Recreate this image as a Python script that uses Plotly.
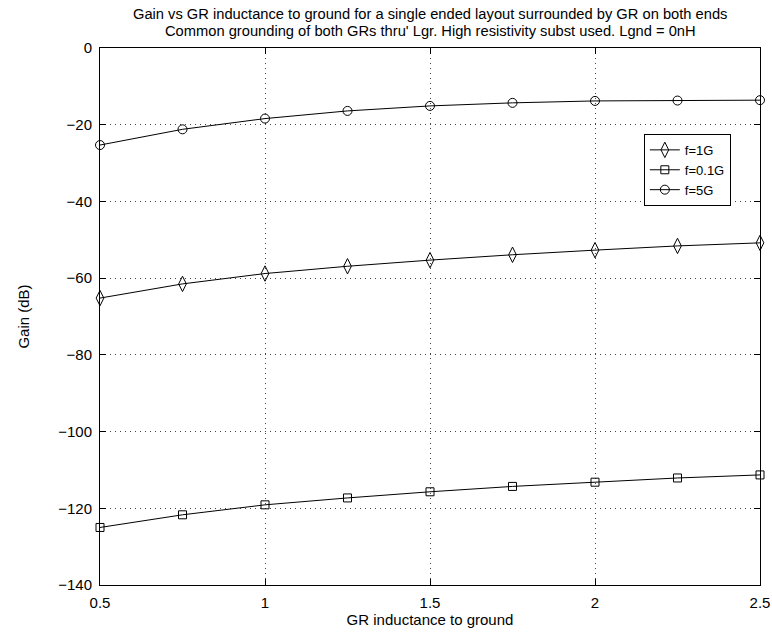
import plotly.graph_objects as go

x = [0.5, 0.75, 1.0, 1.25, 1.5, 1.75, 2.0, 2.25, 2.5]
gain_1g = [-65.2, -61.5, -58.8, -56.9, -55.3, -53.9, -52.7, -51.6, -50.8]
gain_01g = [-125.0, -121.7, -119.1, -117.3, -115.7, -114.3, -113.2, -112.1, -111.3]
gain_5g = [-25.3, -21.2, -18.4, -16.4, -15.1, -14.3, -13.8, -13.7, -13.6]

title_lines = [
    "Gain vs GR inductance to ground for a single ended layout surrounded by GR on both ends",
    "Common grounding of both GRs thru' Lgr. High resistivity subst used. Lgnd = 0nH",
]

series = [
    ("f=1G", gain_1g, "diamond-tall-open", 11),
    ("f=0.1G", gain_01g, "square-open", 8),
    ("f=5G", gain_5g, "circle-open", 9),
]

FAM = "Liberation Sans, Arial, sans-serif"

fig = go.Figure()
for name, y, sym, sz in series:
    fig.add_trace(go.Scatter(
        x=x, y=y, name=name, mode="lines+markers",
        line=dict(color="black", width=1),
        marker=dict(symbol=sym, size=sz,
                    color="black", line=dict(color="black", width=1)),
        cliponaxis=False,
    ))

font = dict(family=FAM, size=15, color="black")
axis_common = dict(
    showline=True, linecolor="black", linewidth=1, mirror="ticks",
    ticks="inside", ticklen=6, tickcolor="black",
    showgrid=True, gridcolor="#444444", griddash="1px,4px", gridwidth=1,
    zeroline=False, tickfont=font, ticklabelstandoff=4, automargin=False,
)

for i, line in enumerate(title_lines):
    fig.add_annotation(
        text=line, xref="paper", yref="paper", x=0.5, y=1,
        xanchor="center", yanchor="middle", yshift=34 - 17 * i,
        showarrow=False, font=dict(family=FAM, size=14.7, color="black"),
    )

fig.update_layout(
    width=772, height=635,
    margin=dict(l=100, r=12, t=48, b=50),
    paper_bgcolor="white", plot_bgcolor="white",
    font=font,
    xaxis=dict(range=[0.5, 2.5], tickvals=[0.5, 1, 1.5, 2, 2.5],
               ticktext=["0.5", "1", "1.5", "2", "2.5"],
               title=dict(text="GR inductance to ground", font=font, standoff=4),
               **axis_common),
    yaxis=dict(range=[-140, 0], dtick=20, tickformat="d",
               title=dict(text="Gain (dB)", font=font, standoff=24),
               **axis_common),
    legend=dict(x=0.824, y=0.84, xanchor="left", yanchor="top",
                bgcolor="white", bordercolor="black", borderwidth=1,
                font=dict(family=FAM, size=13),
                tracegroupgap=0, itemwidth=30),
    showlegend=True,
)

fig.write_html("out.html")
